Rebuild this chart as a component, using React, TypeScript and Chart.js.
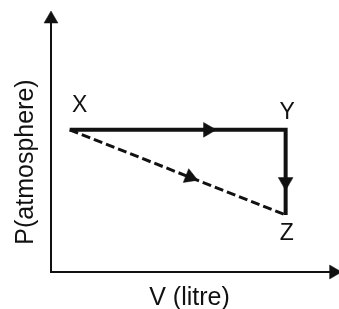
import React, { useEffect, useRef } from 'react';
import { Chart, registerables } from 'chart.js';

Chart.register(...registerables);

// ---- data ----
const stateNames = ['X', 'Y', 'Z'];
const volumes = [0.67, 8.41, 8.41];
const pressures = [5.71, 5.71, 2.29];
const directPath = [0, 2]; // X -> Z (dashed)
const arrowVolumes = [5.62, 8.41, 4.98];
const arrowPressures = [5.71, 3.62, 3.81];
const arrowFrom = [0, 1, 0];
const arrowTo = [1, 2, 2];
const axisMin = 0;
const axisMax = 10;
const axisArrowVolumes = [0, 10.13];
const axisArrowPressures = [10.16, 0];
const xTitle = 'V (litre)';
const yTitle = 'P(atmosphere)';

// ---- styles ----
const INK = '#111111';
const FONT = '"Liberation Sans", Arial, sans-serif';
const labelOffsets = [
  [10, -18],
  [1.5, -11],
  [1.2, 25],
];

const textPlugin = {
  id: 'diagramText',
  afterDraw(chart: any) {
    const { ctx, chartArea } = chart;
    const xs = chart.scales.x;
    const ys = chart.scales.y;
    ctx.save();
    ctx.fillStyle = INK;
    ctx.textAlign = 'center';
    ctx.textBaseline = 'alphabetic';
    ctx.font = `23px ${FONT}`;
    stateNames.forEach((name, i) => {
      const px = xs.getPixelForValue(volumes[i]);
      const py = ys.getPixelForValue(pressures[i]);
      ctx.fillText(name, px + labelOffsets[i][0], py + labelOffsets[i][1]);
    });
    ctx.font = `25px ${FONT}`;
    ctx.fillText(xTitle, (chartArea.left + chartArea.right) / 2 - 1, 305);
    ctx.translate(33, 162);
    ctx.rotate(-Math.PI / 2);
    ctx.fillText(yTitle, 0, 0);
    ctx.restore();
  },
};

export default function App() {
  const canvasRef = useRef<HTMLCanvasElement | null>(null);

  useEffect(() => {
    const canvas = canvasRef.current;
    if (!canvas) return;

    const pathPoints = volumes.map((v, i) => ({ x: v, y: pressures[i] }));
    const directPoints = directPath.map((i) => ({ x: volumes[i], y: pressures[i] }));
    const arrowPoints = arrowVolumes.map((v, i) => ({ x: v, y: arrowPressures[i] }));
    const axisArrowPoints = axisArrowVolumes.map((v, i) => ({ x: v, y: axisArrowPressures[i] }));

    const arrowRotation = (c: any) => {
      const chart = c.chart;
      const xs = chart.scales.x;
      const ys = chart.scales.y;
      const a = arrowFrom[c.dataIndex];
      const b = arrowTo[c.dataIndex];
      if (!xs || !ys || a === undefined) return 0;
      const dx = xs.getPixelForValue(volumes[b]) - xs.getPixelForValue(volumes[a]);
      const dy = ys.getPixelForValue(pressures[b]) - ys.getPixelForValue(pressures[a]);
      return (Math.atan2(dy, dx) * 180) / Math.PI + 90;
    };

    const chart = new Chart(canvas, {
      type: 'scatter',
      data: {
        datasets: [
          {
            data: pathPoints,
            showLine: true,
            borderColor: INK,
            borderWidth: 4,
            borderJoinStyle: 'miter',
            pointRadius: 0,
            fill: false,
          } as any,
          {
            data: directPoints,
            showLine: true,
            borderColor: INK,
            borderWidth: 3,
            borderDash: [9, 4],
            pointRadius: 0,
            fill: false,
          } as any,
          {
            data: arrowPoints,
            showLine: false,
            pointStyle: 'triangle',
            pointRadius: 8.5,
            pointBackgroundColor: INK,
            pointBorderColor: INK,
            pointBorderWidth: 0.5,
            pointRotation: arrowRotation,
          } as any,
          {
            data: axisArrowPoints,
            showLine: false,
            pointStyle: 'triangle',
            pointRadius: 8,
            pointBackgroundColor: INK,
            pointBorderColor: INK,
            pointBorderWidth: 0.5,
            pointRotation: [0, 90],
          } as any,
        ],
      },
      options: {
        animation: false,
        responsive: false,
        devicePixelRatio: 1,
        clip: false as any,
        layout: { padding: { left: 51, top: 23, right: 6, bottom: 37 } },
        plugins: {
          legend: { display: false },
          tooltip: { enabled: false },
          title: { display: false },
        },
        events: [],
        scales: {
          x: {
            type: 'linear',
            min: axisMin,
            max: axisMax,
            grid: { display: false, drawTicks: false },
            ticks: { display: false },
            border: { display: true, color: INK, width: 2 },
          },
          y: {
            type: 'linear',
            min: axisMin,
            max: axisMax,
            grid: { display: false, drawTicks: false },
            ticks: { display: false },
            border: { display: true, color: INK, width: 2 },
          },
        },
      } as any,
      plugins: [textPlugin],
    });

    return () => chart.destroy();
  }, []);

  return (
    <div style={{ position: 'fixed', left: 0, top: 0, width: 339, height: 309, background: '#fff' }}>
      <canvas ref={canvasRef} width={339} height={309} style={{ display: 'block' }} />
    </div>
  );
}
